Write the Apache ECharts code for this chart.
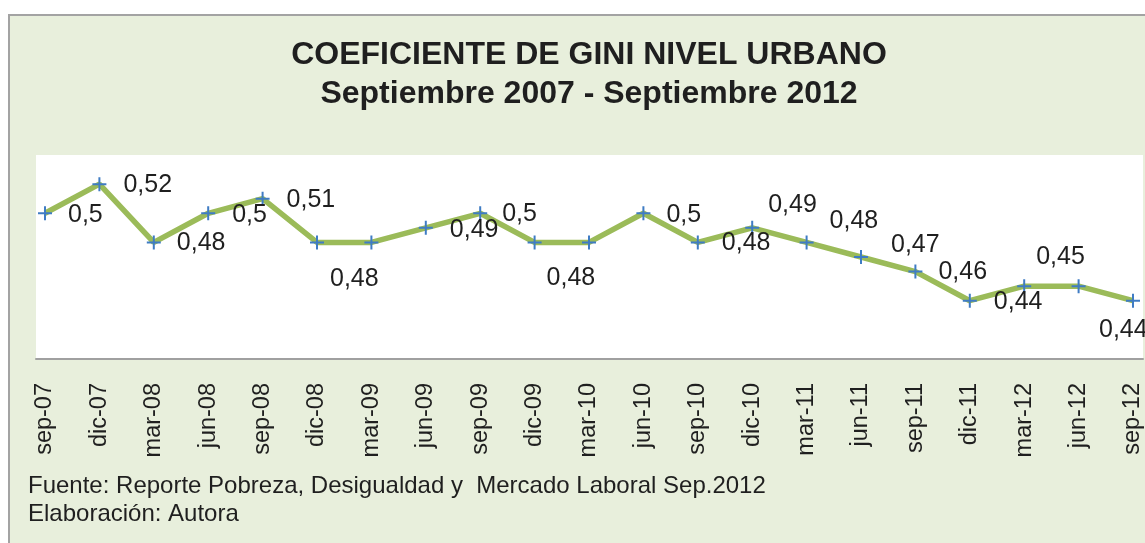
<!DOCTYPE html>
<html>
<head>
<meta charset="utf-8">
<title>Coeficiente de Gini nivel urbano</title>
<script src="https://cdn.jsdelivr.net/npm/echarts@6/dist/echarts.min.js"></script>
<style>
  html, body { margin: 0; padding: 0; background: #fff; }
  #chart { width: 1145px; height: 543px; }
</style>
</head>
<body>
<div id="chart"></div>
<script>
// datos
const categories = ['sep-07', 'dic-07', 'mar-08', 'jun-08', 'sep-08', 'dic-08', 'mar-09',
  'jun-09', 'sep-09', 'dic-09', 'mar-10', 'jun-10', 'sep-10', 'dic-10', 'mar-11', 'jun-11',
  'sep-11', 'dic-11', 'mar-12', 'jun-12', 'sep-12'];
const gini = [0.50, 0.52, 0.48, 0.50, 0.51, 0.48, 0.48, 0.49, 0.50, 0.48, 0.48,
  0.50, 0.48, 0.49, 0.48, 0.47, 0.46, 0.44, 0.45, 0.45, 0.44];
const titleText = 'COEFICIENTE DE GINI NIVEL URBANO';
const subtitleText = 'Septiembre 2007 - Septiembre 2012';
const sourceLines = ['Fuente: Reporte Pobreza, Desigualdad y  Mercado Laboral Sep.2012', 'Elaboración: Autora'];

// desplazamiento de etiquetas (como quedaron movidas en el original), null = sin etiqueta
const labelShift = [[23, 2], [24, 1], [23, 1], [24, 2], [24, 1], [13, 37], null,
  [24, 2], [22, 1], [12, 36], null, [23, 2], [24, 1], [16, -23], [23, -21], [30, -12],
  [23, 1], [24, 1], [12, -29], null, [-34, 29]];

const textColor = '#1f1f1f';
const font = 'Liberation Sans, Arial, sans-serif';

const chart = echarts.init(document.getElementById('chart'));

const points = gini.map(function (v, i) {
  const s = labelShift[i];
  return {
    value: v,
    label: s ? { show: true, offset: [s[0] - 7, s[1]] } : { show: false }
  };
});

chart.setOption({
  backgroundColor: '#ffffff',
  animation: false,
  graphic: [{
    type: 'rect',
    z: -10,
    shape: { x: 9, y: 15, width: 1200, height: 600 },
    style: { fill: '#e8efdc', stroke: '#a3a3a3', lineWidth: 2 }
  }],
  title: [{
    text: titleText,
    left: 584, top: 34, textAlign: 'center',
    textStyle: { fontFamily: font, fontSize: 32, fontWeight: 'bold', color: textColor }
  }, {
    text: subtitleText,
    left: 584, top: 73, textAlign: 'center',
    textStyle: { fontFamily: font, fontSize: 32, fontWeight: 'bold', color: textColor }
  }, {
    text: sourceLines[0],
    left: 23, top: 469,
    textStyle: { fontFamily: font, fontSize: 24, fontWeight: 'normal', color: textColor }
  }, {
    text: sourceLines[1],
    left: 23, top: 497,
    textStyle: { fontFamily: font, fontSize: 24, fontWeight: 'normal', color: textColor }
  }],
  grid: [
    // panel blanco del area de trazado
    { left: 36, right: 2, top: 155, bottom: 184, show: true, backgroundColor: '#ffffff', borderWidth: 0 },
    { left: 45, right: 11, top: 155, bottom: 184 }
  ],
  xAxis: [{
    gridIndex: 0, type: 'value', min: 0, max: 1,
    axisLine: { show: true, onZero: false, lineStyle: { color: '#a0a0a0', width: 2 } },
    axisTick: { show: false }, axisLabel: { show: false }, splitLine: { show: false }
  }, {
    gridIndex: 1, type: 'category', data: categories, boundaryGap: false,
    axisLine: { show: false }, axisTick: { show: false }, splitLine: { show: false },
    axisLabel: {
      rotate: 90, margin: 24, interval: 0,
      fontFamily: font, fontSize: 23.5, color: textColor
    }
  }],
  yAxis: [{
    gridIndex: 0, type: 'value', show: false
  }, {
    gridIndex: 1, type: 'value', min: 0.40, max: 0.54, show: false
  }],
  series: [{
    type: 'line',
    xAxisIndex: 1, yAxisIndex: 1,
    data: points,
    symbol: 'path://M6,0h2v6h6v2h-6v6h-2v-6h-6v-2h6z',
    symbolSize: 14,
    showAllSymbol: true,
    lineStyle: { color: '#9bbb59', width: 5.5 },
    itemStyle: { color: '#3f7cc4' },
    label: {
      position: 'right', distance: 0,
      fontFamily: font, fontSize: 25, color: textColor,
      formatter: function (p) { return String(p.value).replace('.', ','); }
    }
  }]
});
</script>
</body>
</html>
